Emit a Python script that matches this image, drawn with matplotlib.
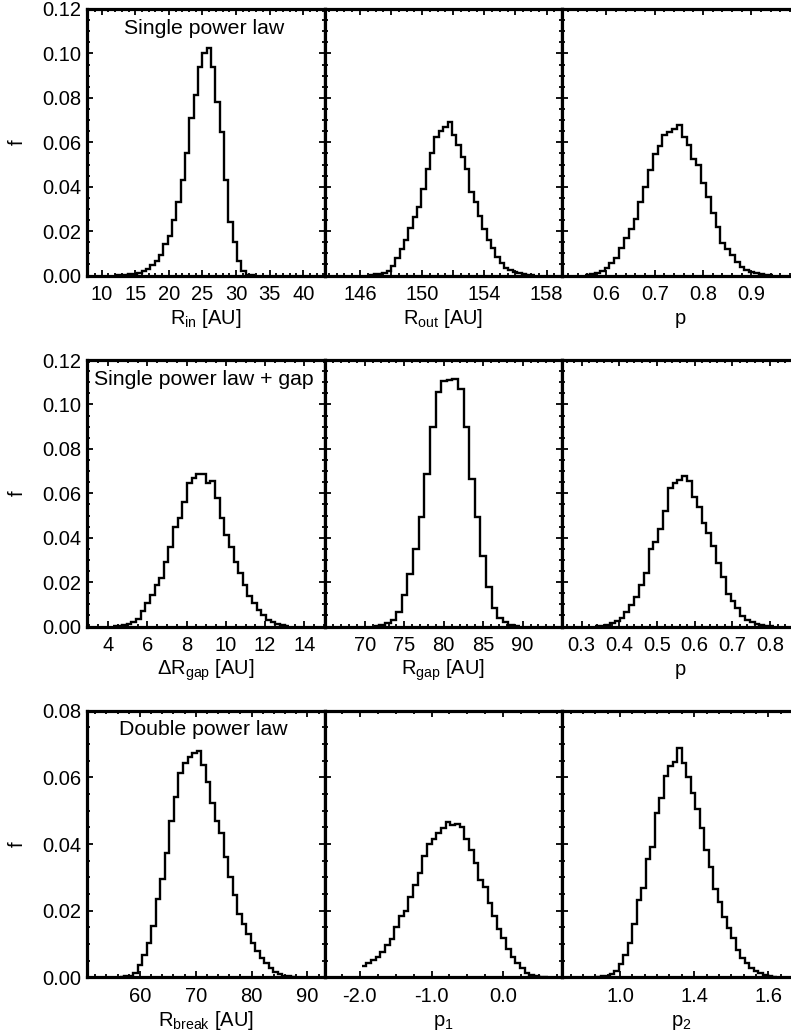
import numpy as np
import matplotlib
matplotlib.use("Agg")
import matplotlib.pyplot as plt
from matplotlib.ticker import MultipleLocator, FixedLocator, FixedFormatter

plt.rcParams['font.family'] = ['Liberation Sans', 'DejaVu Sans']
plt.rcParams['mathtext.fontset'] = 'custom'
plt.rcParams['mathtext.rm'] = 'Liberation Sans'
plt.rcParams['mathtext.it'] = 'Liberation Sans'

# ---- histogram data (bin start, bin width, fraction per bin) ----
# row 1: single power law
rin_x0, rin_dx = 12.05, 0.647
rin_f = [0.0002, 0.0003, 0.0004, 0.0006, 0.0008, 0.001, 0.002, 0.003, 0.0047, 0.0067,
         0.0094, 0.014, 0.018, 0.025, 0.033, 0.043, 0.055, 0.071, 0.0815, 0.094,
         0.100, 0.1025, 0.094, 0.078, 0.0647, 0.043, 0.024, 0.0152, 0.0067, 0.002,
         0.0004, 0.0001]

rout_x0, rout_dx = 146.59, 0.28
rout_f = [0.0003, 0.0005, 0.0008, 0.0011, 0.0022, 0.0044, 0.0077, 0.0118, 0.016, 0.0215,
          0.0265, 0.031, 0.039, 0.048, 0.055, 0.0625, 0.065, 0.067, 0.069, 0.0635,
          0.059, 0.0535, 0.048, 0.0375, 0.033, 0.027, 0.0208, 0.016, 0.0122, 0.0085,
          0.0058, 0.0035, 0.0025, 0.0017, 0.0012, 0.0008, 0.0004, 0.0002]

pa_x0, pa_dx = 0.556, 0.01
pa_f = [0.0003, 0.0006, 0.001, 0.0022, 0.0032, 0.0055, 0.0077, 0.0122, 0.0167, 0.0212,
        0.0257, 0.033, 0.0397, 0.0475, 0.0547, 0.0585, 0.0632, 0.0647, 0.066, 0.0677,
        0.0625, 0.0587, 0.0523, 0.0497, 0.0415, 0.0355, 0.0284, 0.022, 0.0148, 0.0118,
        0.0092, 0.0062, 0.004, 0.0025, 0.0016, 0.001, 0.0007, 0.0004, 0.0002]

# row 2: single power law + gap
dgap_x0, dgap_dx = 4.228, 0.237
dgap_f = [0.0002, 0.0004, 0.0006, 0.001, 0.002, 0.0033, 0.007, 0.0105, 0.014, 0.0188,
          0.022, 0.029, 0.036, 0.0447, 0.049, 0.056, 0.0648, 0.067, 0.0687, 0.0686,
          0.0648, 0.0657, 0.058, 0.0487, 0.0412, 0.0357, 0.029, 0.024, 0.0188, 0.0138,
          0.0105, 0.0075, 0.0053, 0.003, 0.002, 0.001, 0.0005, 0.0002]

rgap_x0, rgap_dx = 71.13, 0.711
rgap_f = [0.0003, 0.0007, 0.0015, 0.003, 0.0067, 0.0143, 0.0237, 0.035, 0.0495, 0.0687,
          0.090, 0.1055, 0.1107, 0.111, 0.1115, 0.107, 0.090, 0.0663, 0.0495, 0.032,
          0.018, 0.0083, 0.0038, 0.002, 0.0008, 0.0003]

pb_x0, pb_dx = 0.3366, 0.0128
pb_f = [0.0002, 0.0004, 0.0008, 0.0015, 0.0025, 0.004, 0.0067, 0.0097, 0.0132, 0.0187,
        0.0243, 0.0348, 0.038, 0.044, 0.0522, 0.0622, 0.0648, 0.066, 0.0678, 0.0657,
        0.0585, 0.0537, 0.0465, 0.042, 0.0365, 0.0285, 0.0225, 0.0147, 0.0117, 0.0083,
        0.0048, 0.003, 0.002, 0.0012, 0.0008, 0.0004, 0.0002]

# row 3: double power law
rb_x0, rb_dx = 56.37, 0.81
rb_f = [0.0002, 0.0003, 0.0005, 0.0012, 0.0037, 0.0067, 0.0102, 0.0155, 0.0235, 0.0295,
        0.0372, 0.047, 0.0542, 0.0614, 0.0642, 0.0662, 0.0672, 0.0679, 0.0637, 0.0587,
        0.0522, 0.047, 0.0432, 0.0362, 0.030, 0.0247, 0.019, 0.016, 0.013, 0.0104,
        0.008, 0.0059, 0.0042, 0.0029, 0.0017, 0.001, 0.0005, 0.0003, 0.0001]

p1_x0, p1_dx = -1.975, 0.065
p1_f = [0.0034, 0.0042, 0.0052, 0.0062, 0.0075, 0.0097, 0.0114, 0.0152, 0.0184, 0.020,
        0.0242, 0.0277, 0.0312, 0.0364, 0.040, 0.0415, 0.0434, 0.0447, 0.0467, 0.0457,
        0.046, 0.045, 0.0414, 0.0382, 0.0342, 0.0292, 0.027, 0.0222, 0.0184, 0.0145,
        0.0119, 0.0085, 0.006, 0.0042, 0.0027, 0.0014, 0.0008, 0.0004, 0.0002, 0.0001]

p2_x0, p2_dx = 0.955, 0.0182
p2_f = [0.0002, 0.0003, 0.0005, 0.0009, 0.0019, 0.004, 0.0067, 0.0102, 0.016, 0.0232,
        0.0267, 0.0354, 0.0392, 0.0494, 0.0537, 0.0604, 0.0634, 0.0647, 0.0687, 0.0644,
        0.0602, 0.0552, 0.0504, 0.0447, 0.0382, 0.0332, 0.0264, 0.0227, 0.018, 0.0147,
        0.0117, 0.0082, 0.0057, 0.0042, 0.0027, 0.0019, 0.0012, 0.0007, 0.0004, 0.0002]

# ---- axis ranges, ticks and labels ----
row_titles = ['Single power law', 'Single power law + gap', 'Double power law']
row_ymax = [0.12, 0.12, 0.08]

xlabels = [['R$_\\mathregular{in}$ [AU]', 'R$_\\mathregular{out}$ [AU]', 'p'],
           ['\u0394R$_\\mathregular{gap}$ [AU]', 'R$_\\mathregular{gap}$ [AU]', 'p'],
           ['R$_\\mathregular{break}$ [AU]', 'p$_\\mathregular{1}$', 'p$_\\mathregular{2}$']]

xlims = [[(7.86, 43.2), (143.73, 159.0), (0.508, 1.0)],
         [(2.93, 15.04), (64.9, 95.0), (0.248, 0.878)],
         [(50.56, 93.1), (-2.49, 0.82), (0.816, 1.776)]]

xticks = [[[10, 15, 20, 25, 30, 35, 40], [146, 148, 150, 152, 154, 156, 158], [0.6, 0.7, 0.8, 0.9]],
          [[4, 6, 8, 10, 12, 14], [70, 75, 80, 85, 90], [0.3, 0.4, 0.5, 0.6, 0.7, 0.8]],
          [[60, 70, 80, 90], [-2.0, -1.0, 0.0], [1.05, 1.35, 1.65]]]

xticklabels = [[['10', '15', '20', '25', '30', '35', '40'],
                ['146', '', '150', '', '154', '', '158'],
                ['0.6', '0.7', '0.8', '0.9']],
               [['4', '6', '8', '10', '12', '14'],
                ['70', '75', '80', '85', '90'],
                ['0.3', '0.4', '0.5', '0.6', '0.7', '0.8']],
               [['60', '70', '80', '90'],
                ['-2.0', '-1.0', '0.0'],
                ['1.0', '1.4', '1.6']]]

xminor = [[1, 0.5, 0.02], [0.5, 1, 0.02], [2, 0.25, 0.05]]

hists = [[(rin_x0, rin_dx, rin_f), (rout_x0, rout_dx, rout_f), (pa_x0, pa_dx, pa_f)],
         [(dgap_x0, dgap_dx, dgap_f), (rgap_x0, rgap_dx, rgap_f), (pb_x0, pb_dx, pb_f)],
         [(rb_x0, rb_dx, rb_f), (p1_x0, p1_dx, p1_f), (p2_x0, p2_dx, p2_f)]]

# ---- layout (figure fractions) ----
W, H = 791, 1034
fig = plt.figure(figsize=(W / 100, H / 100), dpi=100)

col_left = [87.3, 324.7, 562.1]
pan_w = 237.4
row_top = [9.0, 360.0, 710.7]
pan_h = 266.6

FS = 14.5

for r in range(3):
    for c in range(3):
        ax = fig.add_axes([col_left[c] / W, 1 - (row_top[r] + pan_h) / H, pan_w / W, pan_h / H])
        x0, dx, f = hists[r][c]
        edges = x0 + dx * np.arange(len(f) + 1)
        ax.stairs(f, edges, baseline=None, color='black', lw=1.7)

        ax.set_xlim(*xlims[r][c])
        ax.set_ylim(0, row_ymax[r])

        ax.xaxis.set_major_locator(FixedLocator(xticks[r][c]))
        ax.xaxis.set_major_formatter(FixedFormatter(xticklabels[r][c]))
        ax.xaxis.set_minor_locator(MultipleLocator(xminor[r][c]))
        ax.yaxis.set_major_locator(MultipleLocator(0.02))
        ax.yaxis.set_minor_locator(MultipleLocator(0.005))

        ax.tick_params(which='both', direction='in', top=True, right=True,
                       labelsize=FS, width=1.3, colors='black')
        ax.tick_params(which='major', length=4.5)
        ax.tick_params(which='minor', length=2.2)
        ax.tick_params(axis='x', pad=7)
        ax.tick_params(axis='y', pad=4)

        for s in ax.spines.values():
            s.set_linewidth(2.3)

        if c == 0:
            ax.yaxis.set_major_formatter(plt.FormatStrFormatter('%.2f'))
            ax.set_ylabel('f', fontsize=FS)
            ax.yaxis.set_label_coords(-0.296, 0.5)
            ax.yaxis.label.set_va('center')
            ax.text(0.49, 0.928, row_titles[r], transform=ax.transAxes,
                    ha='center', va='center', fontsize=15.3)
        else:
            ax.tick_params(axis='y', labelleft=False)

        ax.set_xlabel(xlabels[r][c], fontsize=FS)
        ax.xaxis.set_label_coords(0.5, -0.182)
        ax.xaxis.label.set_va('baseline')

fig.savefig('out.png', dpi=100)
